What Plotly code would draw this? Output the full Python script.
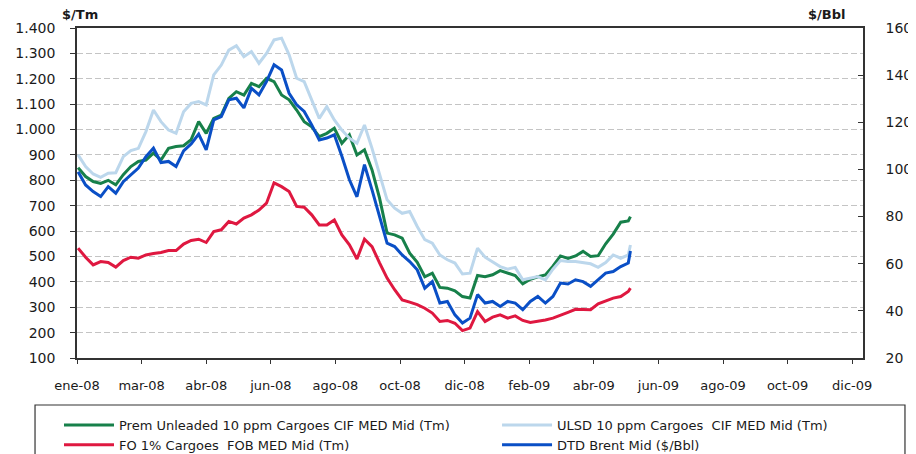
import plotly.graph_objects as go
import pandas as pd

# weekly sample dates (Jan 2008 - May 2009)
dates = list(pd.date_range("2008-01-02", periods=74, freq="7D")) + [pd.Timestamp("2009-05-29")]

# $/Tm
prem_unleaded = [850, 815, 795, 788, 800, 782, 822, 854, 874, 880,
                 907, 880, 926, 933, 936, 960, 1031, 985, 1044, 1057,
                 1123, 1149, 1136, 1182, 1169, 1202, 1189, 1136, 1117, 1077,
                 1031, 1011, 972, 985, 1005, 946, 979, 900, 920, 841,
                 730, 592, 585, 572, 513, 477, 420, 434, 378, 375,
                 365, 342, 336, 425, 420, 428, 444, 435, 425, 392,
                 410, 420, 427, 462, 502, 492, 502, 520, 500, 503,
                 550, 588, 635, 640, 657]
ulsd = [900, 854, 825, 812, 828, 830, 893, 917, 926, 992,
        1077, 1031, 998, 985, 1070, 1103, 1110, 1097, 1215, 1254,
        1313, 1330, 1287, 1307, 1261, 1300, 1353, 1360, 1294, 1202,
        1189, 1117, 1044, 1090, 1038, 998, 966, 946, 1018, 926,
        820, 723, 690, 670, 677, 618, 566, 552, 506, 487,
        474, 431, 434, 533, 497, 480, 460, 450, 457, 408,
        415, 421, 408, 450, 484, 480, 480, 474, 471, 457,
        476, 506, 493, 506, 545]
fo_1pct = [533, 497, 467, 480, 476, 458, 484, 497, 493, 506,
           512, 516, 523, 523, 549, 563, 568, 555, 598, 605,
           638, 628, 651, 664, 683, 710, 790, 775, 756, 697,
           694, 664, 624, 624, 644, 585, 546, 490, 568, 539,
           475, 415, 369, 329, 320, 310, 296, 277, 244, 248,
           237, 208, 218, 283, 244, 261, 270, 257, 266, 248,
           240, 244, 250, 257, 270, 280, 292, 292, 290, 313,
           323, 336, 342, 362, 375]
# $/Bbl
brent = [99.0, 93.4, 90.6, 88.5, 92.7, 89.9, 94.8, 97.6, 100.6, 105.4,
         109.0, 102.9, 103.4, 101.2, 107.9, 110.8, 115.0, 108.3, 121.0, 122.4,
         129.5, 130.2, 126.1, 134.4, 131.6, 137.3, 144.4, 142.2, 132.3, 127.4,
         124.6, 118.9, 112.5, 113.3, 114.7, 105.6, 95.6, 88.4, 102.0, 91.3,
         80.0, 68.7, 67.3, 63.7, 60.9, 57.4, 49.6, 52.4, 43.3, 44.0,
         38.3, 34.8, 36.9, 46.9, 43.3, 44.0, 41.9, 44.0, 43.3, 40.5,
         44.0, 46.1, 43.3, 46.1, 51.8, 51.4, 53.2, 52.4, 50.4, 53.2,
         56.0, 56.7, 58.8, 60.3, 65.4]

tick_dates = list(pd.date_range("2008-01-01", periods=13, freq="60D"))
tick_labels = ["ene-08", "mar-08", "abr-08", "jun-08", "ago-08", "oct-08", "dic-08",
               "feb-09", "abr-09", "jun-09", "ago-09", "oct-09", "dic-09"]

names = ["Prem Unleaded 10 ppm Cargoes CIF MED Mid (Tm)",
         "ULSD 10 ppm Cargoes  CIF MED Mid (Tm)",
         "FO 1% Cargoes  FOB MED Mid (Tm)",
         "DTD Brent Mid ($/Bbl)"]
colors = ["#17804a", "#bcd7ec", "#df1840", "#0a4fc6"]

FONT = "DejaVu Sans, Arial, sans-serif"
TXT = "#1a1a1a"
LW = 3

fig = go.Figure()
fig.add_trace(go.Scatter(x=dates, y=prem_unleaded, name=names[0], mode="lines",
                         legend="legend", line=dict(color=colors[0], width=LW)))
fig.add_trace(go.Scatter(x=dates, y=ulsd, name=names[1], mode="lines",
                         legend="legend2", line=dict(color=colors[1], width=LW)))
fig.add_trace(go.Scatter(x=dates, y=fo_1pct, name=names[2], mode="lines",
                         legend="legend", line=dict(color=colors[2], width=LW)))
fig.add_trace(go.Scatter(x=dates, y=brent, name=names[3], mode="lines", yaxis="y2",
                         legend="legend2", line=dict(color=colors[3], width=LW)))

leg_common = dict(orientation="v", yanchor="top", xanchor="left", itemwidth=50,
                  font=dict(family=FONT, size=13, color=TXT),
                  bgcolor="rgba(0,0,0,0)", borderwidth=0, tracegroupgap=0)

# the page body offsets the figure by 8px, so the figure is 8px smaller
fig.update_layout(
    width=908, height=446,
    margin=dict(l=69, r=53, t=20, b=96, autoexpand=False),
    paper_bgcolor="white", plot_bgcolor="white",
    separators=",.",
    font=dict(family=FONT, size=13, color=TXT),
    showlegend=True,
    legend=dict(x=-0.0229, y=-0.1576, **leg_common),
    legend2=dict(x=0.5344, y=-0.1576, **leg_common),
    xaxis=dict(type="date", range=["2008-01-01", "2009-12-31"],
               tickvals=tick_dates, ticktext=tick_labels,
               showline=True, linecolor="#333333", linewidth=1.5, mirror=True,
               ticks="outside", ticklen=4, tickcolor="#333333", ticklabelstandoff=11,
               showgrid=False, zeroline=False,
               tickfont=dict(family=FONT, size=13, color=TXT)),
    yaxis=dict(range=[100, 1400], dtick=100, tickformat=",d",
               showline=True, linecolor="#333333", linewidth=1.5,
               ticks="outside", ticklen=5, tickcolor="#333333", ticklabelstandoff=12,
               showgrid=True, gridcolor="#c4c4c4", griddash="6px,3px", gridwidth=1,
               zeroline=False,
               tickfont=dict(family=FONT, size=14, color=TXT)),
    yaxis2=dict(range=[20, 160], dtick=20, overlaying="y", side="right",
                showline=True, linecolor="#333333", linewidth=1.5,
                ticks="inside", ticklen=5, tickcolor="#333333", ticklabelstandoff=18,
                showgrid=False, zeroline=False,
                tickfont=dict(family=FONT, size=14, color=TXT)),
    annotations=[
        dict(text="<b>$/Tm</b>", xref="paper", yref="paper", x=0.004, y=1.042,
             xanchor="center", yanchor="middle", showarrow=False,
             font=dict(family=FONT, size=13, color=TXT)),
        dict(text="<b>$/Bbl</b>", xref="paper", yref="paper", x=0.953, y=1.042,
             xanchor="center", yanchor="middle", showarrow=False,
             font=dict(family=FONT, size=13, color=TXT)),
    ],
    shapes=[
        dict(type="rect", xref="paper", yref="paper",
             x0=-0.0534, x1=1.0534, y0=-0.1424, y1=-0.33,
             line=dict(color="#333333", width=1.2), fillcolor="rgba(0,0,0,0)"),
    ],
)

fig.write_html("out.html")
